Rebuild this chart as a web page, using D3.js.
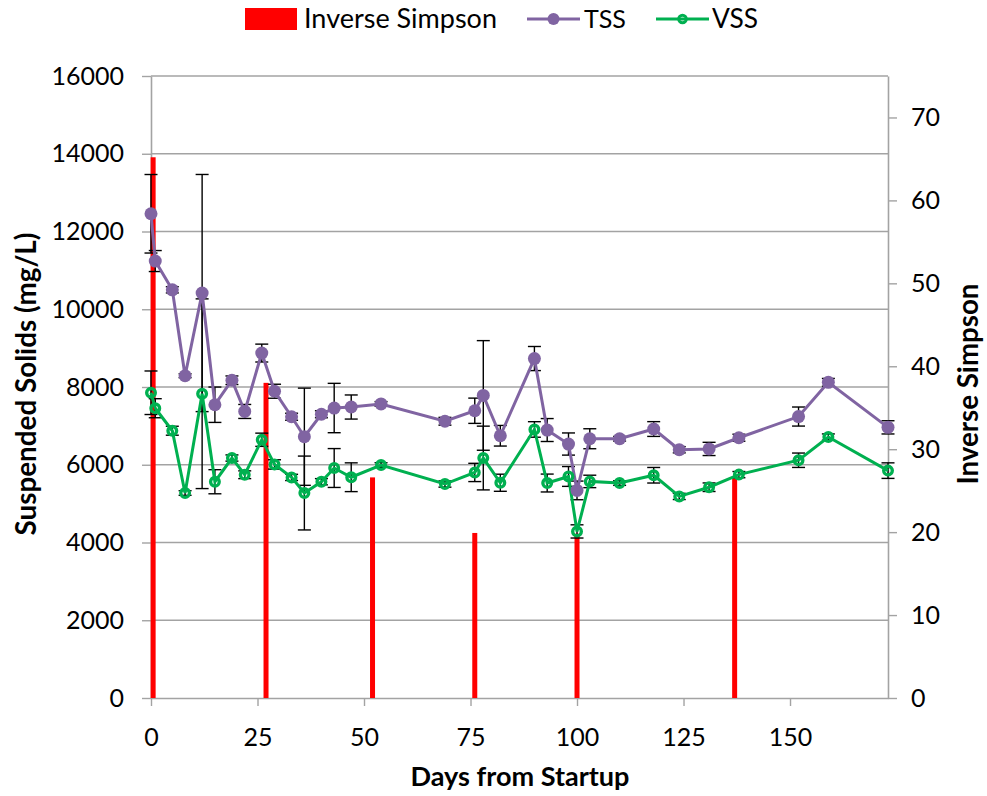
<!DOCTYPE html>
<html>
<head>
<meta charset="utf-8">
<script src="https://cdn.jsdelivr.net/npm/d3@7"></script>
<style>
  html, body { margin: 0; padding: 0; background: #fff; }
  svg { display: block; font-family: Lato, "Open Sans", sans-serif; }
</style>
</head>
<body>
<svg id="chart" width="987" height="796"></svg>
<script>
// ---------------- data ----------------
const days = [0,1,5,8,12,15,19,22,26,29,33,36,40,43,47,54,69,76,78,82,90,93,98,100,103,110,118,124,131,138,152,159,173];
const tss  = [12456,11240,10500,8290,10417,7544,8174,7371,8873,7891,7235,6721,7299,7459,7485,7564,7119,7389,7783,6746,8732,6893,6533,5340,6669,6669,6919,6386,6407,6695,7240,8120,6962];
const tssErr = [1010,270,80,50,3050,455,110,180,230,180,90,1250,90,635,310,60,100,325,1410,265,310,295,285,240,257,60,190,80,170,90,245,100,170];
const vss  = [7852,7454,6875,5273,7827,5563,6173,5743,6643,6008,5674,5273,5563,5916,5679,5993,5504,5802,6173,5537,6908,5530,5699,4285,5571,5530,5730,5185,5422,5746,6116,6713,5849];
const vssErr = [560,245,115,60,2440,310,80,100,170,120,80,950,80,500,370,60,80,235,820,220,200,230,255,170,160,60,200,80,110,80,185,80,200];
const barDays = [0.5, 27, 52, 76, 100, 137];
const invSimpson = [65.2, 38.0, 26.6, 19.9, 19.8, 26.6];
const leftTicks = [0,2000,4000,6000,8000,10000,12000,14000,16000];
const rightTicks = [0,10,20,30,40,50,60,70];
const xTicks = [0,25,50,75,100,125,150];

// ---------------- layout ----------------
const svg = d3.select("#chart");
const L = 151, R = 888, T = 76, B = 698;
const x = d3.scaleLinear().domain([0,173]).range([L,R]);
const yL = d3.scaleLinear().domain([0,16000]).range([B,T]);
const yR = d3.scaleLinear().domain([0,75]).range([B,T]);
const GRID = "#a3a3a3";
const PURPLE = "#8064A2", GREEN = "#00B050", RED = "#FF0000";

function fit(sel, w) {
  const n = sel.node();
  const cur = parseFloat(sel.attr("font-size"));
  const len = n.getComputedTextLength();
  sel.attr("font-size", cur * w / len);
}

// gridlines
svg.append("g").selectAll("line").data(leftTicks.filter(d=>d>0)).join("line")
  .attr("x1", L).attr("x2", R).attr("y1", d=>yL(d)).attr("y2", d=>yL(d))
  .attr("stroke", GRID).attr("stroke-width", 1.4);

// axes
function styleAxis(g) {
  g.selectAll("path.domain").attr("stroke", GRID).attr("stroke-width", 1.6);
  g.selectAll(".tick line").attr("stroke", GRID).attr("stroke-width", 1.4);
  g.selectAll("text").attr("font-size", 25).attr("fill", "#000").attr("font-family", "Lato, sans-serif");
}
svg.append("g").attr("transform", `translate(${L},0)`)
  .call(d3.axisLeft(yL).tickValues(leftTicks).tickSize(9).tickSizeOuter(0).tickPadding(18).tickFormat(d3.format("d")))
  .call(styleAxis);
svg.append("g").attr("transform", `translate(${R},0)`)
  .call(d3.axisRight(yR).tickValues(rightTicks).tickSize(9).tickSizeOuter(0).tickPadding(14).tickFormat(d3.format("d")))
  .call(styleAxis);
svg.append("g").attr("transform", `translate(0,${B})`)
  .call(d3.axisBottom(x).tickValues(xTicks).tickSize(8).tickSizeOuter(0).tickPadding(22).tickFormat(d3.format("d")))
  .call(styleAxis);

// bars (secondary axis)
svg.append("g").selectAll("rect").data(barDays.map((d,i)=>({d, v: invSimpson[i]}))).join("rect")
  .attr("x", p => x(p.d) - 2.5).attr("width", 5)
  .attr("y", p => yR(p.v)).attr("height", p => yR(0) - yR(p.v))
  .attr("fill", RED);

// error bars
function errBars(vals, errs) {
  const g = svg.append("g").attr("stroke", "#000").attr("stroke-width", 1.4);
  days.forEach((d,i) => {
    const cx = x(d), y1 = yL(vals[i]-errs[i]), y2 = yL(vals[i]+errs[i]);
    g.append("line").attr("x1", cx).attr("x2", cx).attr("y1", y1).attr("y2", y2);
    g.append("line").attr("x1", cx-6.5).attr("x2", cx+6.5).attr("y1", y1).attr("y2", y1);
    g.append("line").attr("x1", cx-6.5).attr("x2", cx+6.5).attr("y1", y2).attr("y2", y2);
  });
}
errBars(tss, tssErr);
errBars(vss, vssErr);

// lines
const lineGen = vals => d3.line().x((d,i)=>x(days[i])).y((d,i)=>yL(vals[i]))(vals);
svg.append("path").attr("d", lineGen(tss)).attr("fill","none").attr("stroke", PURPLE).attr("stroke-width", 3);
svg.append("path").attr("d", lineGen(vss)).attr("fill","none").attr("stroke", GREEN).attr("stroke-width", 3);

// markers
svg.append("g").selectAll("circle").data(tss).join("circle")
  .attr("cx", (d,i)=>x(days[i])).attr("cy", d=>yL(d)).attr("r", 6.5).attr("fill", PURPLE);
svg.append("g").selectAll("circle").data(vss).join("circle")
  .attr("cx", (d,i)=>x(days[i])).attr("cy", d=>yL(d)).attr("r", 4.3)
  .attr("fill", "none").attr("stroke", GREEN).attr("stroke-width", 3.4);

// axis titles
const t1 = svg.append("text").attr("transform", "translate(36,384) rotate(-90)")
  .attr("text-anchor","middle").attr("font-weight","bold").attr("font-size", 22).text("Suspended Solids (mg/L)");
fit(t1, 303);
const t2 = svg.append("text").attr("transform", "translate(978,384) rotate(-90)")
  .attr("text-anchor","middle").attr("font-weight","bold").attr("font-size", 22).text("Inverse Simpson");
fit(t2, 201);
const t3 = svg.append("text").attr("x", 520).attr("y", 786)
  .attr("text-anchor","middle").attr("font-weight","bold").attr("font-size", 22).text("Days from Startup");
fit(t3, 219);

// legend
const lg = svg.append("g");
lg.append("rect").attr("x", 245).attr("y", 8).attr("width", 52).attr("height", 22).attr("fill", RED);
const l1 = lg.append("text").attr("x", 304).attr("y", 28).attr("font-size", 24).text("Inverse Simpson");
fit(l1, 193);
lg.append("line").attr("x1", 527).attr("x2", 580).attr("y1", 19).attr("y2", 19).attr("stroke", PURPLE).attr("stroke-width", 3);
lg.append("circle").attr("cx", 553.5).attr("cy", 19).attr("r", 6).attr("fill", PURPLE);
const l2 = lg.append("text").attr("x", 584).attr("y", 28).attr("font-size", 24).text("TSS");
fit(l2, 42);
lg.append("line").attr("x1", 656).attr("x2", 709).attr("y1", 19).attr("y2", 19).attr("stroke", GREEN).attr("stroke-width", 3);
lg.append("circle").attr("cx", 682.5).attr("cy", 19).attr("r", 3.8).attr("fill", "none").attr("stroke", GREEN).attr("stroke-width", 3);
const l3 = lg.append("text").attr("x", 712).attr("y", 28).attr("font-size", 24).text("VSS");
fit(l3, 46);
</script>
</body>
</html>
